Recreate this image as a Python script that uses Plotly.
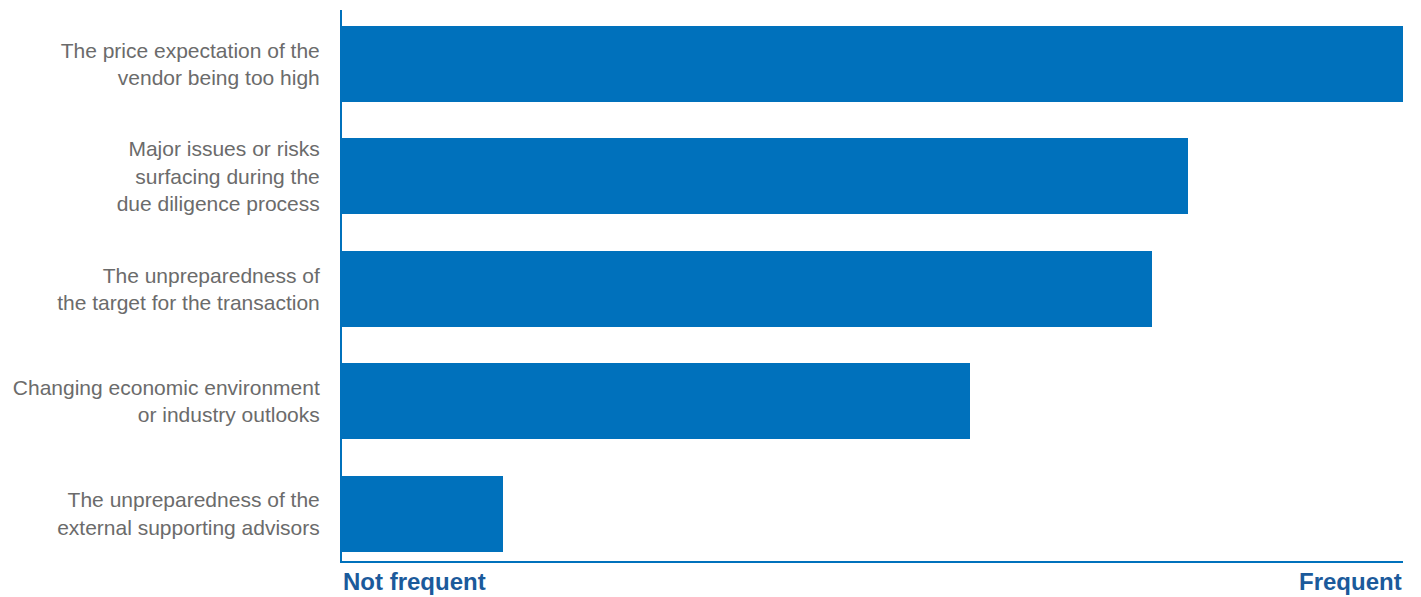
import plotly.graph_objects as go

# Reasons deals fail, ranked by how frequently they occur
categories = [
    "The price expectation of the<br>vendor being too high",
    "Major issues or risks<br>surfacing during the<br>due diligence process",
    "The unpreparedness of<br>the target for the transaction",
    "Changing economic environment<br>or industry outlooks",
    "The unpreparedness of the<br>external supporting advisors",
]
frequency = [100, 79.7, 76.3, 59.2, 15.2]
positions = list(range(len(categories)))

BLUE = "#0071bc"
DARK_BLUE = "#1b5a9b"
GREY = "#6b6b6b"
FONT = "Liberation Sans, Arial, sans-serif"

fig = go.Figure(
    go.Bar(
        x=frequency,
        y=positions,
        orientation="h",
        marker=dict(color=BLUE, line=dict(width=0)),
        width=0.675,
        hoverinfo="skip",
    )
)

fig.update_layout(
    width=1421,
    height=597,
    margin=dict(l=342, r=18, t=10, b=36),
    paper_bgcolor="white",
    plot_bgcolor="white",
    showlegend=False,
    bargap=0,
    font=dict(family=FONT),
)

fig.update_xaxes(
    range=[0, 100],
    showgrid=False,
    zeroline=False,
    showticklabels=False,
    showline=True,
    linecolor=BLUE,
    linewidth=2,
)

fig.update_yaxes(
    range=[4.42, -0.48],
    tickvals=positions,
    ticktext=categories,
    showgrid=False,
    zeroline=False,
    showline=True,
    linecolor=BLUE,
    linewidth=2,
    ticks="",
    ticklabelstandoff=16,
    tickfont=dict(size=21, color=GREY, family=FONT),
)

# Scale end labels under the axis
for text, xpos, anchor, dx in [("Not frequent", 0, "left", -1), ("Frequent", 1, "right", 1)]:
    fig.add_annotation(
        text=f"<b>{text}</b>",
        xref="paper",
        yref="paper",
        x=xpos,
        y=0,
        xanchor=anchor,
        yanchor="middle",
        yshift=-20,
        xshift=dx,
        showarrow=False,
        font=dict(size=24, color=DARK_BLUE, family=FONT),
    )

fig.write_html("out.html")
